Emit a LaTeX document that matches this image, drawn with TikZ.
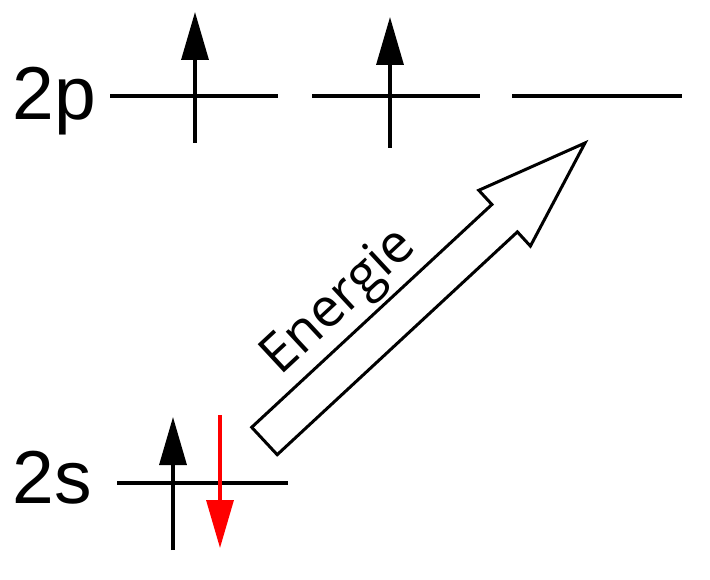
\documentclass[tikz,border=0pt]{standalone}
\usepackage{fontspec}
\setmainfont{Liberation Sans}
\newfontfamily\energyfont{Open Sans}
\usetikzlibrary{arrows.meta}

\begin{document}
\begin{tikzpicture}[x=1pt, y=-1pt,
    orbital/.style={line width=3.8pt},
    lbl/.style={anchor=base west, inner sep=0pt, font=\fontsize{75}{80}\selectfont},
    spin/.style={line width=3.4pt, -{Triangle[length=48pt, width=27pt]}},
    energy/.style={draw, line width=3pt, line join=miter, fill=white}
]
\useasboundingbox (0,0) rectangle (710,580);

% labels
\node[lbl] (l2p) at (12.5,120) {2p};
\node[lbl] (l2s) at (12.5,503) {2s};

% orbitals
\coordinate (p1a) at (110,96); \coordinate (p1b) at (278,96);
\coordinate (p2a) at (312,96); \coordinate (p2b) at (480,96);
\coordinate (p3a) at (512,96); \coordinate (p3b) at (682,96);
\coordinate (sa) at (117,483); \coordinate (sb) at (288,483);
\draw[orbital] (p1a) -- (p1b);
\draw[orbital] (p2a) -- (p2b);
\draw[orbital] (p3a) -- (p3b);
\draw[orbital] (sa) -- (sb);

% electrons
\coordinate (e1a) at (195,143); \coordinate (e1b) at (195,12);
\coordinate (e2a) at (390,148); \coordinate (e2b) at (390,17);
\coordinate (e3a) at (173,550); \coordinate (e3b) at (173,417);
\coordinate (e4a) at (220,415); \coordinate (e4b) at (220,548);
\draw[spin] (e1a) -- (e1b);
\draw[spin] (e2a) -- (e2b);
\draw[spin] (e3a) -- (e3b);
\draw[spin, red] (e4a) -- (e4b);

% energy arrow
\draw[energy] (251.7,427.3) -- (491.9,204.5) -- (478.8,190.3) -- (585,143)
    -- (530.4,246.1) -- (517.4,231.9) -- (277.2,454.7) -- cycle;
\node[font=\energyfont\fontsize{54}{60}\selectfont, rotate=42.9, inner sep=0pt] (txt) at (340,303) {Energie};
\end{tikzpicture}
\end{document}
